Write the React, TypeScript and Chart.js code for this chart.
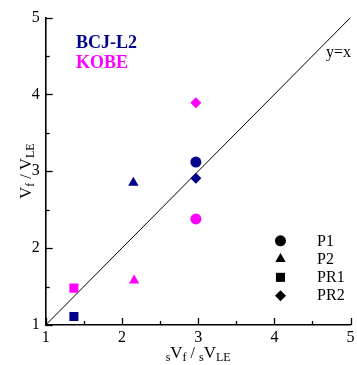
import React, { useEffect, useRef } from 'react';
import { Chart, registerables } from 'chart.js';
import { drawPoint } from 'chart.js/helpers';

Chart.register(...registerables);

// Specimens and their markers
const specimens = ['P1', 'P2', 'PR1', 'PR2'];
const pointShapes = ['circle', 'triangle', 'rect', 'rectRot'];
const pointSizes = [5.5, 6, 6.4, 5.5];

// BCJ-L2 results (sVf/sVLE, Vf/VLE)
const bcjX = [2.97, 2.15, 1.37, 2.97];
const bcjY = [3.12, 2.85, 1.11, 2.91];

// KOBE results
const kobeX = [2.97, 2.16, 1.37, 2.97];
const kobeY = [2.38, 1.58, 1.48, 3.89];

// Axis range and reference line y = x
const axisMin = 1;
const axisMax = 5;
const identityLine = [1, 5];

const NAVY = '#00008B';
const MAGENTA = '#FF00FF';
const SERIF = "'Liberation Serif', 'Times New Roman', Times, serif";

type Run = { t: string; size: number; dy?: number; bold?: boolean };

function drawRuns(ctx: CanvasRenderingContext2D, runs: Run[], cx: number, baseY: number) {
  const widths = runs.map((r) => {
    ctx.font = `${r.bold ? 'bold ' : ''}${r.size}px ${SERIF}`;
    return ctx.measureText(r.t).width;
  });
  const total = widths.reduce((a, b) => a + b, 0);
  let x = cx - total / 2;
  ctx.textAlign = 'left';
  ctx.textBaseline = 'alphabetic';
  runs.forEach((r, i) => {
    ctx.font = `${r.bold ? 'bold ' : ''}${r.size}px ${SERIF}`;
    ctx.fillText(r.t, x, baseY + (r.dy || 0));
    x += widths[i];
  });
}

const decorPlugin = {
  id: 'decor',
  afterDraw(chart: any) {
    const { ctx, chartArea, scales } = chart;
    const xs = scales.x;
    const ys = scales.y;
    ctx.save();

    // inward major and minor ticks
    ctx.strokeStyle = '#000';
    ctx.lineWidth = 1.3;
    for (let v = axisMin; v <= axisMax; v += 0.5) {
      const len = Number.isInteger(v) ? 7 : 4;
      const px = Math.round(xs.getPixelForValue(v)) + 0.5;
      ctx.beginPath();
      ctx.moveTo(px, chartArea.bottom);
      ctx.lineTo(px, chartArea.bottom - len);
      ctx.stroke();
      const py = Math.round(ys.getPixelForValue(v)) + 0.5;
      ctx.beginPath();
      ctx.moveTo(chartArea.left, py);
      ctx.lineTo(chartArea.left + len, py);
      ctx.stroke();
    }

    // y = x label
    ctx.fillStyle = '#000';
    ctx.font = `16px ${SERIF}`;
    ctx.textAlign = 'center';
    ctx.textBaseline = 'middle';
    ctx.fillText('y=x', xs.getPixelForValue(4.84), ys.getPixelForValue(4.545));

    // series names
    ctx.font = `bold 18px ${SERIF}`;
    ctx.textAlign = 'left';
    ctx.fillStyle = NAVY;
    ctx.fillText('BCJ-L2', xs.getPixelForValue(1.396), ys.getPixelForValue(4.666));
    ctx.fillStyle = MAGENTA;
    ctx.fillText('KOBE', xs.getPixelForValue(1.396), ys.getPixelForValue(4.398));

    // marker legend
    const legendRows = [2.095, 1.857, 1.62, 1.38];
    specimens.forEach((name, i) => {
      const px = xs.getPixelForValue(4.08);
      const py = ys.getPixelForValue(legendRows[i]);
      ctx.fillStyle = '#000';
      ctx.strokeStyle = '#000';
      drawPoint(ctx, { pointStyle: pointShapes[i] as any, radius: pointSizes[i], borderWidth: 0, rotation: 0 }, px, py);
      ctx.fillStyle = '#000';
      ctx.font = `16px ${SERIF}`;
      ctx.textAlign = 'left';
      ctx.textBaseline = 'middle';
      ctx.fillText(name, xs.getPixelForValue(4.56), py + 0.5);
    });

    // axis titles
    ctx.fillStyle = '#000';
    drawRuns(
      ctx,
      [
        { t: 's', size: 12, dy: 3 },
        { t: 'V', size: 17 },
        { t: 'f', size: 12, dy: 3 },
        { t: ' / ', size: 16 },
        { t: 's', size: 12, dy: 3 },
        { t: 'V', size: 17 },
        { t: 'LE', size: 12, dy: 3 },
      ],
      (chartArea.left + chartArea.right) / 2,
      358
    );

    ctx.save();
    ctx.translate(31, (chartArea.top + chartArea.bottom) / 2);
    ctx.rotate(-Math.PI / 2);
    drawRuns(
      ctx,
      [
        { t: 'V', size: 17 },
        { t: 'f', size: 12, dy: 3 },
        { t: ' / ', size: 16 },
        { t: 'V', size: 17 },
        { t: 'LE', size: 12, dy: 3 },
      ],
      0,
      0
    );
    ctx.restore();

    ctx.restore();
  },
};

function toPoints(xv: number[], yv: number[]) {
  return xv.map((x, i) => ({ x, y: yv[i] }));
}

export default function App() {
  const ref = useRef<HTMLCanvasElement>(null);

  useEffect(() => {
    if (!ref.current) return;
    let chart: Chart | null = null;
    let cancelled = false;

    const build = () => {
      if (cancelled || !ref.current) return;
      const tickFont = { family: SERIF, size: 16 };
      chart = new Chart(ref.current, {
        type: 'scatter',
        data: {
          datasets: [
            {
              label: 'BCJ-L2',
              data: toPoints(bcjX, bcjY),
              pointStyle: pointShapes as any,
              pointRadius: pointSizes,
              backgroundColor: NAVY,
              borderColor: NAVY,
              borderWidth: 0,
              order: 0,
            },
            {
              label: 'KOBE',
              data: toPoints(kobeX, kobeY),
              pointStyle: pointShapes as any,
              pointRadius: pointSizes,
              backgroundColor: MAGENTA,
              borderColor: MAGENTA,
              borderWidth: 0,
              order: 0,
            },
            {
              label: 'y=x',
              data: toPoints(identityLine, identityLine),
              showLine: true,
              pointRadius: 0,
              borderColor: '#000',
              borderWidth: 1,
              order: 1,
            },
          ],
        },
        options: {
          responsive: false,
          animation: false,
          events: [],
          layout: { padding: { top: 17.5, right: 5, left: 0, bottom: 0 } },
          plugins: { legend: { display: false }, tooltip: { enabled: false } },
          scales: {
            x: {
              type: 'linear',
              min: axisMin,
              max: axisMax,
              grid: { display: false, drawTicks: false },
              border: { display: true, color: '#000', width: 1.6 },
              ticks: { stepSize: 1, color: '#000', font: tickFont, padding: 3 },
              afterFit(scale: any) {
                scale.height = 40;
                scale.paddingLeft = 0;
                scale.paddingRight = 0;
              },
            },
            y: {
              type: 'linear',
              min: axisMin,
              max: axisMax,
              grid: { display: false, drawTicks: false },
              border: { display: true, color: '#000', width: 1.6 },
              ticks: { stepSize: 1, color: '#000', font: tickFont, padding: 6 },
              afterFit(scale: any) {
                scale.width = 45.7;
                scale.paddingTop = 0;
                scale.paddingBottom = 0;
              },
            },
          },
        },
        plugins: [decorPlugin],
      });
    };

    const fonts = (document as any).fonts;
    if (fonts && fonts.load) {
      Promise.all([
        fonts.load(`16px 'Liberation Serif'`),
        fonts.load(`bold 18px 'Liberation Serif'`),
      ]).then(build, build);
    } else {
      build();
    }

    return () => {
      cancelled = true;
      if (chart) chart.destroy();
    };
  }, []);

  return (
    <div style={{ position: 'fixed', left: 0, top: 0, width: 357, height: 365, background: '#fff' }}>
      <canvas ref={ref} width={357} height={365} style={{ display: 'block' }} />
    </div>
  );
}
